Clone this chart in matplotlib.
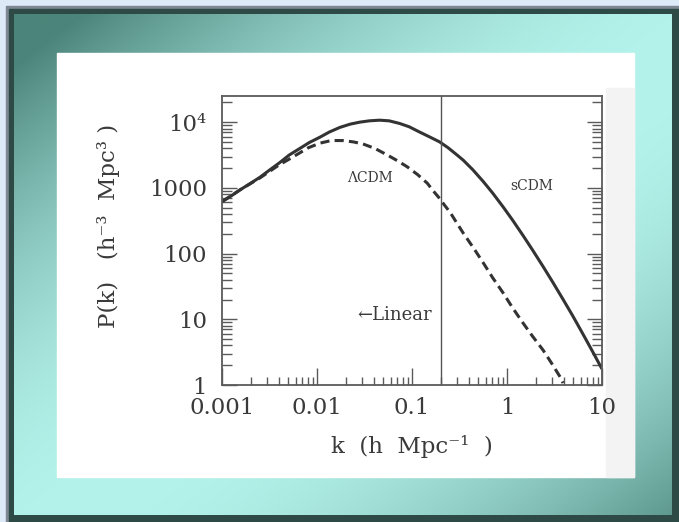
import numpy as np
import matplotlib
matplotlib.use("Agg")
import matplotlib.pyplot as plt
from matplotlib.ticker import LogLocator, FixedLocator, FixedFormatter, NullFormatter
from matplotlib.patches import Rectangle

# ---------------- data ----------------
k_scdm = [0.001, 0.00126, 0.00155, 0.0020, 0.0025, 0.00316, 0.0041, 0.0051,
          0.0066, 0.0083, 0.0107, 0.0135, 0.0174, 0.0224, 0.0282, 0.0355,
          0.0457, 0.0575, 0.0741, 0.0933, 0.120, 0.151, 0.195, 0.240, 0.295,
          0.347, 0.437, 0.562, 0.708, 0.912, 1.15, 1.48, 1.86, 2.40, 3.02,
          3.89, 4.90, 6.31, 7.94, 10.0]
P_scdm = [617, 759, 933, 1175, 1445, 1862, 2455, 3162,
          3981, 4898, 5888, 7079, 8318, 9333, 10000, 10471,
          10715, 10471, 9550, 8511, 7079, 6026, 5012, 4074, 3200,
          2630, 1884, 1250, 830, 511, 320, 187, 113, 63.4, 37.0,
          20.1, 11.4, 5.94, 3.25, 1.75]

k_lcdm = [0.001, 0.00155, 0.0025, 0.0040, 0.0050, 0.0062, 0.0081, 0.0107,
          0.0141, 0.0186, 0.0240, 0.0302, 0.0407, 0.0550, 0.0708, 0.0891,
          0.115, 0.145, 0.166, 0.195, 0.219, 0.251, 0.295, 0.347, 0.447,
          0.562, 0.708, 0.912, 1.15, 1.48, 1.86, 2.40, 2.95, 3.63, 3.89]
P_lcdm = [617, 933, 1413, 2239, 2692, 3236, 4074, 4786,
          5248, 5248, 5012, 4677, 3981, 3162, 2570, 2089,
          1585, 1175, 912, 692, 550, 427, 295, 204, 120,
          72.4, 42.7, 25.1, 14.8, 8.71, 5.50, 3.39, 2.14, 1.32, 1.07]

k_split = 0.2
x_ticks = [0.001, 0.01, 0.1, 1, 10]
x_ticklabels = ["0.001", "0.01", "0.1", "1", "10"]
y_ticks = [1, 10, 100, 1000, 10000]
y_ticklabels = ["1", "10", "100", "1000", "10⁴"]

W, H = 679, 522
fig = plt.figure(figsize=(W / 100, H / 100), dpi=100)

# ---------------- slide background ----------------
bg = fig.add_axes([0, 0, 1, 1])
bg.set_xlim(0, W)
bg.set_ylim(H, 0)
bg.axis("off")
bg.add_patch(Rectangle((0, 0), W, H, color="#dde9f7", zorder=0))
bg.add_patch(Rectangle((6, 6), W, H, color="#7d8792", zorder=1))
bg.add_patch(Rectangle((9, 9), W, H, color="#2e4a46", zorder=2))

gx0, gx1, gy0, gy1 = 14, 672, 14, 515
xx, yy = np.meshgrid(np.linspace(0, 1, 300), np.linspace(0, 1, 240))
u = xx + yy
t = np.clip(1 - ((u - 1.1) / 1.0) ** 2, 0, 1)
dark = np.array([75, 132, 122]) / 255
light = np.array([180, 243, 235]) / 255
img = dark[None, None, :] * (1 - t[..., None]) + light[None, None, :] * t[..., None]
bg.imshow(img, extent=(gx0, gx1, gy1, gy0), aspect="auto", zorder=3, interpolation="bilinear")

bg.add_patch(Rectangle((57, 53), 634 - 57, 477 - 53, color="white", zorder=4))
bg.add_patch(Rectangle((606, 88), 634 - 606, 477 - 88, color="#f3f3f3", zorder=5))

# ---------------- main chart ----------------
L, R, T, B = 222, 602, 96, 385
ax = fig.add_axes([L / W, 1 - B / H, (R - L) / W, (B - T) / H])
ax.set_facecolor("none")
ax.set_xscale("log")
ax.set_yscale("log")
ax.set_xlim(1e-3, 10)
ax.set_ylim(1, 2.5e4)

ink = "#333333"
ax.plot(k_scdm, P_scdm, color=ink, lw=2.2, solid_capstyle="butt", solid_joinstyle="round")
ax.plot(k_lcdm, P_lcdm, color=ink, lw=2.2, dashes=(3.0, 1.7), dash_capstyle="butt")
ax.axvline(k_split, color="#555555", lw=1.0)

for s in ax.spines.values():
    s.set_color("#5a5a5a")
    s.set_linewidth(1.3)

ax.xaxis.set_major_locator(FixedLocator(x_ticks))
ax.xaxis.set_major_formatter(FixedFormatter(x_ticklabels))
ax.xaxis.set_minor_locator(LogLocator(base=10, subs=np.arange(2, 10), numticks=20))
ax.xaxis.set_minor_formatter(NullFormatter())
ax.yaxis.set_major_locator(FixedLocator(y_ticks))
ax.yaxis.set_major_formatter(FixedFormatter(y_ticklabels))
ax.yaxis.set_minor_locator(LogLocator(base=10, subs=np.arange(2, 10), numticks=20))
ax.yaxis.set_minor_formatter(NullFormatter())

ax.tick_params(axis="both", which="both", direction="in", color="#5a5a5a",
               top=False, right=True, labelcolor="#3a3a3a")
ax.tick_params(axis="x", which="major", length=12, width=1.0, pad=9, labelsize=16.5)
ax.tick_params(axis="x", which="minor", length=6, width=1.0)
ax.tick_params(axis="y", which="major", length=11, width=1.0, pad=11, labelsize=16.5)
ax.tick_params(axis="y", which="minor", length=7, width=1.0)
for lab in ax.get_xticklabels() + ax.get_yticklabels():
    lab.set_family("DejaVu Serif")

ax.text(0.036, 1400, "ΛCDM", family="DejaVu Serif", fontsize=10, color="#3a3a3a",
        ha="center", va="center")
ax.text(1.83, 1050, "sCDM", family="DejaVu Serif", fontsize=10, color="#3a3a3a",
        ha="center", va="center")
ax.text(0.066, 11.7, "←Linear", family="DejaVu Serif", fontsize=13, color="#3a3a3a",
        ha="center", va="center")

fig.text(108 / W, 1 - 226 / H, "P(k)   (h⁻³  Mpc³ )", rotation=90,
         family="DejaVu Serif", fontsize=16.5, color="#3a3a3a", ha="center", va="center")
fig.text(412 / W, 1 - 447 / H, "k  (h  Mpc⁻¹  )",
         family="DejaVu Serif", fontsize=16.5, color="#3a3a3a", ha="center", va="center")

fig.savefig("out.png", dpi=100)
